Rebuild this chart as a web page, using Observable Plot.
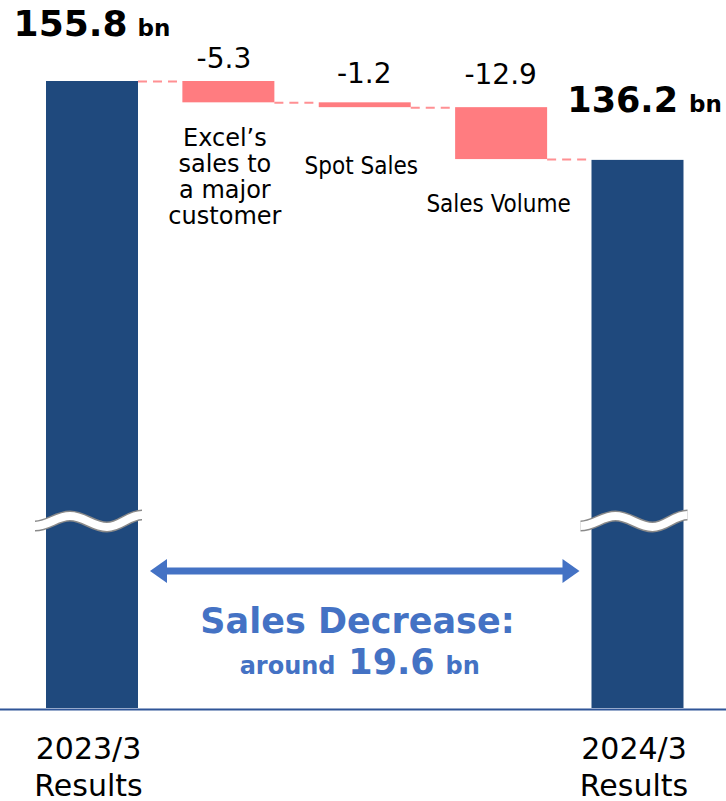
<!DOCTYPE html>
<html><head><meta charset="utf-8">
<script src="https://cdn.jsdelivr.net/npm/d3@7"></script>
<script src="https://cdn.jsdelivr.net/npm/@observablehq/plot@0.6"></script>
<style>
html,body{margin:0;padding:0;background:#fff;}
#chart svg{display:block;}
</style></head><body><div id="chart"></div>
<script>
// ---- data ----
const startTotal = 155.8;
const endTotal = 136.2;
const deltas = [-5.3, -1.2, -12.9];
const deltaLabels = ["-5.3", "-1.2", "-12.9"];
const deltaNames = ["Excel’s\nsales to\na major\ncustomer", "Spot Sales", "Sales Volume"];
const totalLabels = ["155.8", "136.2"];
const periodLabels = ["2023/3\nResults", "2024/3\nResults"];
const unitLabel = "bn";
const decreaseTitle = "Sales Decrease:";
const decreasePrefix = "around";
const decreaseValue = (startTotal - endTotal).toFixed(1);

// ---- build waterfall rows ----
const rows = [];
rows.push({i: 0, kind: "total", y1: 0, y2: startTotal, label: totalLabels[0], name: periodLabels[0]});
let level = startTotal;
deltas.forEach((d, k) => {
  rows.push({i: k + 1, kind: "delta", y1: level, y2: level + d, label: deltaLabels[k], name: deltaNames[k]});
  level += d;
});
rows.push({i: 4, kind: "total", y1: 0, y2: endTotal, label: totalLabels[1], name: periodLabels[1]});
const connectors = rows.slice(0, -1).map((r, k) => ({from: r.i, to: rows[k + 1].i, y: r.y2}));

const HW = 0.3373; // half bar width in band units
const NAVY = "#1F497D", SALMON = "#FF7C80", BLUE = "#4472C4";
const FONT = "DejaVu Sans";

const totals = rows.filter(r => r.kind === "total");
const deltaRows = rows.filter(r => r.kind === "delta");

function decorations(index, scales, values, dimensions) {
  const X = scales.x;
  const base = dimensions.height - dimensions.marginBottom;
  const g = d3.create("svg:g");
  // axis-break waves on the total bars
  const yc = base - 187;
  for (const r of totals) {
    const cx = X(r.i);
    const pts = [[-57, 5], [-22, -5], [15, 6], [50, -6]];
    let d = `M${cx + pts[0][0]},${yc + pts[0][1]}`;
    for (let k = 1; k < pts.length; k++) {
      const [x0, y0] = pts[k - 1], [x1, y1] = pts[k];
      const c = (x1 - x0) * 0.38;
      d += `C${cx + x0 + c},${yc + y0} ${cx + x1 - c},${yc + y1} ${cx + x1},${yc + y1}`;
    }
    g.append("path").attr("d", d).attr("fill", "none").attr("stroke", "#8a8a8a").attr("stroke-width", 11);
    g.append("path").attr("d", d).attr("fill", "none").attr("stroke", "#ffffff").attr("stroke-width", 8);
  }
  // double-headed arrow between the totals
  const ya = base - 137;
  const xl = X(totals[0].i + HW) + 12;
  const xr = X(totals[1].i - HW) - 12;
  const hl = 17, hh = 12;
  g.append("line").attr("x1", xl + hl - 1).attr("x2", xr - hl + 1).attr("y1", ya).attr("y2", ya)
    .attr("stroke", BLUE).attr("stroke-width", 7);
  g.append("path").attr("d", `M${xl},${ya}L${xl + hl},${ya - hh}L${xl + hl},${ya + hh}Z`).attr("fill", BLUE);
  g.append("path").attr("d", `M${xr},${ya}L${xr - hl},${ya - hh}L${xr - hl},${ya + hh}Z`).attr("fill", BLUE);
  return g.node();
}

const chart = Plot.plot({
  width: 726,
  height: 801,
  marginTop: 81,
  marginBottom: 93,
  marginLeft: 0,
  marginRight: 0,
  x: {type: "linear", domain: [-0.6746, 4.649], axis: null},
  y: {type: "linear", domain: [0, startTotal], axis: null},
  style: {fontFamily: FONT, background: "#fff", overflow: "visible"},
  marks: [
    Plot.ruleY(connectors, {x1: d => d.from + HW, x2: d => d.to - HW, y: "y", stroke: SALMON, strokeWidth: 2, strokeDasharray: "9,6", strokeOpacity: 0.85}),
    Plot.rect(rows, {x1: d => d.i - HW, x2: d => d.i + HW, y1: "y1", y2: "y2", fill: d => d.kind === "total" ? NAVY : SALMON}),
    Plot.ruleY([0], {stroke: "#2F5597", strokeWidth: 2, dy: 1}),
    decorations,
    // total labels
    Plot.text([totals[0]], {x: "i", y: "y2", text: "label", textAnchor: "end", lineAnchor: "bottom", dx: 35, dy: -46, fontSize: 36, fontWeight: "bold", fill: "#000"}),
    Plot.text([totals[0]], {x: "i", y: "y2", text: () => unitLabel, textAnchor: "start", lineAnchor: "bottom", dx: 45, dy: -46, fontSize: 23, fontWeight: "bold", fill: "#000"}),
    Plot.text([totals[1]], {x: "i", y: "y2", text: "label", textAnchor: "end", lineAnchor: "bottom", dx: 40, dy: -48, fontSize: 35, fontWeight: "bold", fill: "#000"}),
    Plot.text([totals[1]], {x: "i", y: "y2", text: () => unitLabel, textAnchor: "start", lineAnchor: "bottom", dx: 51, dy: -48, fontSize: 23, fontWeight: "bold", fill: "#000"}),
    // delta values
    Plot.text([deltaRows[0]], {x: "i", y: "y1", text: "label", lineAnchor: "bottom", dx: -5, dy: -14, fontSize: 28, fill: "#000"}),
    Plot.text([deltaRows[1]], {x: "i", y: "y1", text: "label", lineAnchor: "bottom", dx: -1, dy: -20, fontSize: 28, fill: "#000"}),
    Plot.text([deltaRows[2]], {x: "i", y: "y1", text: "label", lineAnchor: "bottom", dx: -1, dy: -24, fontSize: 28, fill: "#000"}),
    // delta names
    Plot.text([deltaRows[0]], {x: "i", y: "y2", text: "name", lineAnchor: "bottom", lineHeight: 1.08, dx: -4, dy: 121, fontSize: 24, fill: "#000"}),
    Plot.text([deltaRows[1]], {x: "i", y: "y2", text: "name", lineAnchor: "bottom", dx: -4, dy: 66, fontSize: 24, fontFamily: "DejaVu Sans Condensed", fill: "#000"}),
    Plot.text([deltaRows[2]], {x: "i", y: "y2", text: "name", lineAnchor: "bottom", dx: -3, dy: 52, fontSize: 24, fontFamily: "DejaVu Sans Condensed", fill: "#000"}),
    // period labels
    Plot.text(totals, {x: "i", y: () => 0, text: "name", lineAnchor: "bottom", lineHeight: 1.233, dx: -4, dy: 87, fontSize: 30, fill: "#000"}),
    // decrease annotation
    Plot.text([decreaseTitle], {frameAnchor: "bottom", text: d => d, lineAnchor: "bottom", dx: -6, dy: -76, fontSize: 35, fontWeight: "bold", fill: BLUE}),
    Plot.text([decreasePrefix], {frameAnchor: "bottom", text: d => d, textAnchor: "end", lineAnchor: "bottom", dx: -28, dy: -35, fontSize: 24, fontWeight: "bold", fill: BLUE}),
    Plot.text([decreaseValue], {frameAnchor: "bottom", text: d => d, lineAnchor: "bottom", dx: 28, dy: -35, fontSize: 35, fontWeight: "bold", fill: BLUE}),
    Plot.text([unitLabel], {frameAnchor: "bottom", text: d => d, textAnchor: "start", lineAnchor: "bottom", dx: 82, dy: -35, fontSize: 24, fontWeight: "bold", fill: BLUE})
  ]
});
document.getElementById("chart").appendChild(chart);
</script>
</body></html>
